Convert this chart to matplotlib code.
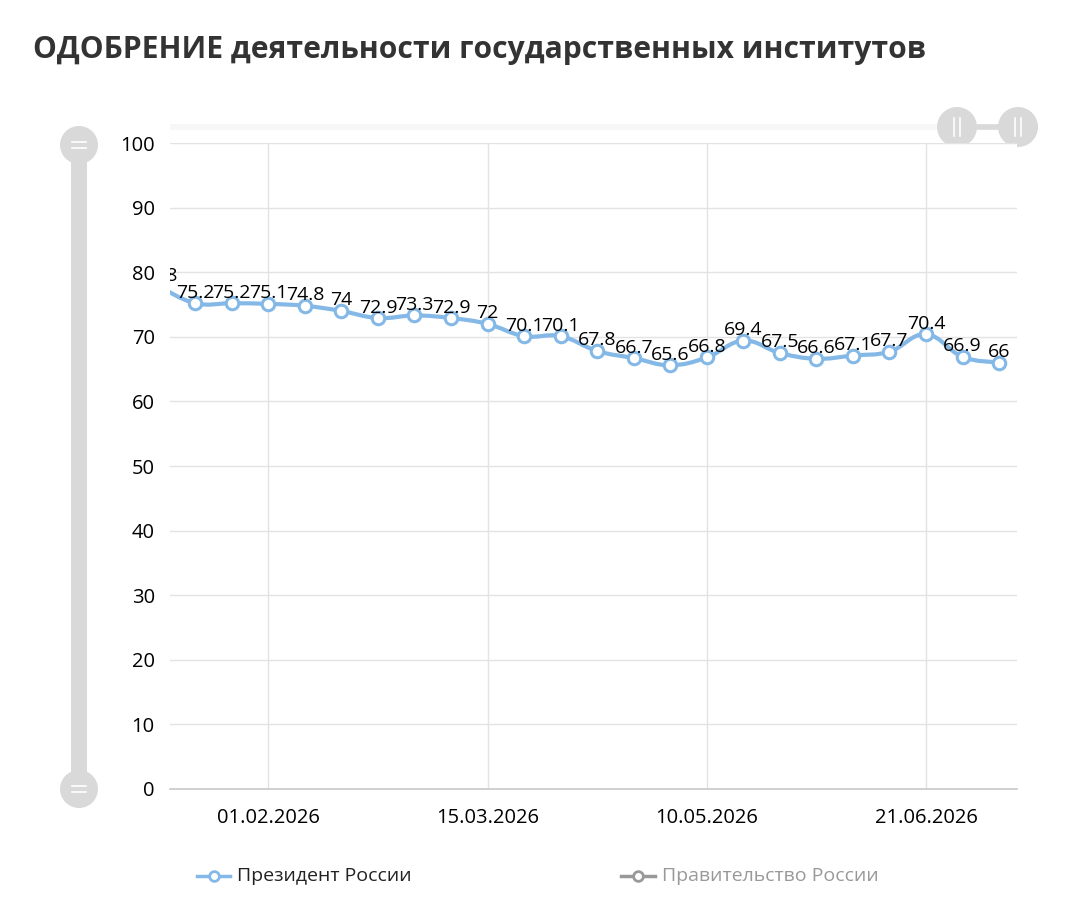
import numpy as np
import matplotlib
matplotlib.use("Agg")
from matplotlib import pyplot as plt
from matplotlib.path import Path
from matplotlib.patches import PathPatch, Circle, Rectangle
from matplotlib.lines import Line2D
from matplotlib import font_manager

# data
title = "ОДОБРЕНИЕ деятельности государственных институтов"
values = [77.8, 75.2, 75.2, 75.1, 74.8, 74, 72.9, 73.3, 72.9, 72, 70.1, 70.1,
          67.8, 66.7, 65.6, 66.8, 69.4, 67.5, 66.6, 67.1, 67.7, 70.4, 66.9, 66]
tick_pos = [3, 9, 15, 21]
tick_labels = ["01.02.2026", "15.03.2026", "10.05.2026", "21.06.2026"]
series_names = ["Президент России", "Правительство России"]

names = {f.name for f in font_manager.fontManager.ttflist}
font = "Liberation Sans Narrow" if "Liberation Sans Narrow" in names else "Open Sans"
plt.rcParams["font.family"] = [font, "DejaVu Sans"]

BLUE = "#84b8e6"
GRID = "#e3e3e3"
SLIDER = "#d9d9d9"

W, H = 1082, 900
fig = plt.figure(figsize=(W / 100, H / 100), dpi=100)
ax = fig.add_axes([170 / W, (H - 789) / H, (1017 - 170) / W, (789 - 143) / H])

x = np.arange(len(values))
y = np.array(values, dtype=float)

# smooth line (catmull-rom as bezier segments)
pts = np.column_stack([x, y])
t = 0.2
verts = [pts[0]]
codes = [Path.MOVETO]
for i in range(len(pts) - 1):
    p0 = pts[max(i - 1, 0)]
    p1 = pts[i]
    p2 = pts[i + 1]
    p3 = pts[min(i + 2, len(pts) - 1)]
    c1 = p1 + (p2 - p0) * t
    c2 = p2 - (p3 - p1) * t
    verts += [c1, c2, p2]
    codes += [Path.CURVE4] * 3
ax.add_patch(PathPatch(Path(verts, codes), facecolor="none", edgecolor=BLUE,
                       lw=3, zorder=3))
ax.plot(x, y, linestyle="none", marker="o", ms=9, mfc="white", mec=BLUE,
        mew=2.2, zorder=4)

for xi, yi in zip(x, y):
    ax.annotate(f"{yi:g}", (xi, yi), xytext=(0, 4), textcoords="offset points",
                ha="center", va="baseline", fontsize=14, color="black",
                zorder=5, annotation_clip=False, clip_on=True)

ax.set_xlim(0.31, 23.49)
ax.set_ylim(0, 100)
ax.set_yticks(np.arange(0, 101, 10))
ax.set_xticks(tick_pos)
ax.set_xticklabels(tick_labels)
ax.tick_params(axis="both", length=0, labelsize=14.5, colors="black")
ax.tick_params(axis="y", pad=11)
ax.tick_params(axis="x", pad=14)
ax.grid(True, color=GRID, lw=1)
ax.set_axisbelow(True)
for s in ["top", "right", "left"]:
    ax.spines[s].set_visible(False)
ax.spines["bottom"].set_color("#c8c8c8")
ax.spines["bottom"].set_linewidth(1.2)

# overlay in pixel coordinates for title, sliders and legend
ov = fig.add_axes([0, 0, 1, 1], zorder=-1)
ov.set_xlim(0, W)
ov.set_ylim(H, 0)
ov.axis("off")

ov.text(33, 50, title, fontsize=21.6, fontweight="bold", color="#333333",
        ha="left", va="center")

# vertical zoom slider
ov.add_patch(Rectangle((71, 145), 16, 789 - 145, color=SLIDER, lw=0))
for cy in [145, 789]:
    ov.add_patch(Circle((79, cy), 19, color=SLIDER, lw=0))
    for dy in [-3, 3]:
        ov.plot([72, 86], [cy + dy, cy + dy], color="white", lw=1.2)

# horizontal zoom slider
ov.add_patch(Rectangle((170, 124), 847, 6, color="#f7f7f7", lw=0))
ov.plot([977, 998], [127, 127], color=SLIDER, lw=4)
for cx in [957, 1018]:
    ov.add_patch(Circle((cx, 127), 20, color=SLIDER, lw=0))
    for dx in [-3, 3]:
        ov.plot([cx + dx, cx + dx], [118, 136], color="white", lw=1.2)

# legend
ov.add_line(Line2D([197, 230], [876, 876], color=BLUE, lw=2.5))
ov.plot([213.5], [876], marker="o", ms=7, mfc="white", mec=BLUE, mew=2)
ov.text(237, 876, series_names[0], fontsize=14, color="#222222", va="center")
ov.add_line(Line2D([621, 655], [876, 876], color="#999999", lw=2.5))
ov.plot([638], [876], marker="o", ms=7, mfc="white", mec="#999999", mew=2)
ov.text(662, 876, series_names[1], fontsize=14, color="#999999", va="center")

fig.savefig("out.png", dpi=100)
